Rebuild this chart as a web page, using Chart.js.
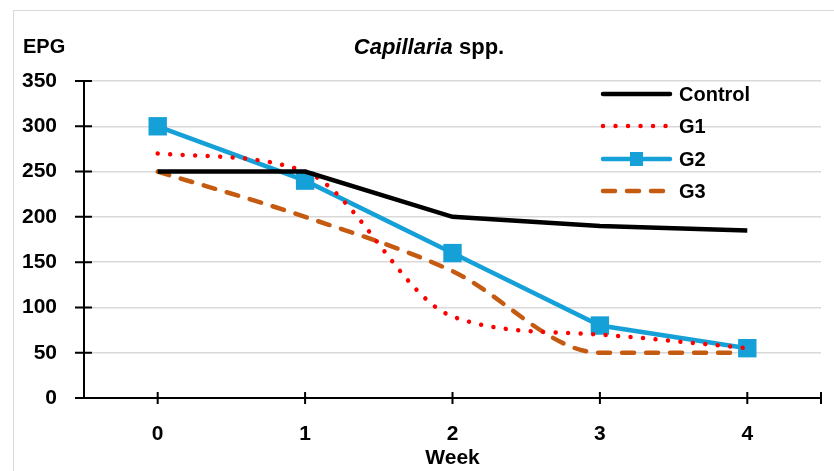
<!DOCTYPE html>
<html lang="en">
<head>
    <meta charset="UTF-8">
    <title>Capillaria spp.</title>
    <script src="https://cdn.jsdelivr.net/npm/chart.js"></script>
    <style>
        body {
            margin: 0;
            width: 834px;
            height: 471px;
            overflow: hidden;
            background: #fff;
            font-family: "Liberation Sans", Arial, sans-serif;
        }
        .frame {
            position: absolute;
            left: 13px;
            top: 10px;
            width: 900px;
            height: 600px;
            border: 1.5px solid #d9d9d9;
        }
        .chart-box {
            position: absolute;
            left: 0;
            top: 0;
            width: 834px;
            height: 471px;
        }
        .title {
            position: absolute;
            top: 34px;
            left: 0;
            width: 858px;
            text-align: center;
            font-size: 22px;
            font-weight: bold;
        }
        .ylabel {
            position: absolute;
            left: 23px;
            top: 35px;
            font-size: 20px;
            font-weight: bold;
        }
    </style>
</head>
<body>
    <div class="frame"></div>
    <div class="chart-box">
        <canvas id="epgChart" width="834" height="471"></canvas>
    </div>
    <div class="title"><i>Capillaria</i> spp.</div>
    <div class="ylabel">EPG</div>

    <script>
        // data
        const weeks = ['0', '1', '2', '3', '4'];
        const controlEPG = [250, 250, 200, 190, 185];
        const g1EPG = [270, 250, 90, 70, 55];
        const g2EPG = [300, 240, 160, 80, 55];
        const g3EPG = [250, 200, 140, 50, 50];
        const yTicks = [0, 50, 100, 150, 200, 250, 300, 350];

        const tickFont = { family: '"Liberation Sans", Arial, sans-serif', size: 21, weight: 'bold' };

        // axis lines with ticks crossing them
        const crossAxes = {
            id: 'crossAxes',
            beforeDatasetsDraw(chart) {
                const { ctx, chartArea, scales } = chart;
                const x0 = chartArea.left, y0 = chartArea.bottom;
                ctx.save();
                ctx.strokeStyle = '#000';
                ctx.lineWidth = 2;
                ctx.beginPath();
                ctx.moveTo(x0, chartArea.top);
                ctx.lineTo(x0, y0);
                ctx.moveTo(x0 - 8, y0);
                ctx.lineTo(chartArea.right, y0);
                yTicks.forEach(v => {
                    const y = scales.y.getPixelForValue(v);
                    ctx.moveTo(x0 - 9, y);
                    ctx.lineTo(x0 + 8, y);
                });
                const xs = weeks.map((w, i) => scales.x.getPixelForValue(i));
                xs.push(chartArea.right);
                xs.forEach(x => {
                    ctx.moveTo(x, y0 - 6);
                    ctx.lineTo(x, y0 + 6);
                });
                ctx.stroke();
                ctx.restore();
            }
        };

        // legend drawn inside the plot, top right
        const innerLegend = {
            id: 'innerLegend',
            afterDraw(chart) {
                const { ctx } = chart;
                const rows = [94, 126, 159, 191];
                ctx.save();
                chart.data.datasets.forEach((ds, i) => {
                    const y = rows[i];
                    ctx.strokeStyle = ds.borderColor;
                    ctx.lineWidth = ds.borderWidth;
                    ctx.lineCap = 'round';
                    ctx.setLineDash(ds.borderDash || []);
                    ctx.beginPath();
                    ctx.moveTo(603, y);
                    ctx.lineTo(670, y);
                    ctx.stroke();
                    ctx.setLineDash([]);
                    if (ds.pointRadius > 0) {
                        ctx.fillStyle = ds.borderColor;
                        ctx.fillRect(630, y - 7, 13, 14);
                    }
                    ctx.fillStyle = '#000';
                    ctx.font = 'bold 20px "Liberation Sans", Arial, sans-serif';
                    ctx.textBaseline = 'middle';
                    ctx.fillText(ds.label, 679, y + 1);
                });
                ctx.restore();
            }
        };

        const ctx = document.getElementById('epgChart').getContext('2d');
        new Chart(ctx, {
            type: 'line',
            data: {
                labels: weeks,
                datasets: [
                    {
                        label: 'Control',
                        data: controlEPG,
                        borderColor: '#000000',
                        borderWidth: 4.5,
                        pointRadius: 0,
                        tension: 0
                    },
                    {
                        label: 'G1',
                        data: g1EPG,
                        borderColor: '#ff0000',
                        borderWidth: 4.5,
                        borderDash: [0.01, 12.5],
                        borderCapStyle: 'round',
                        pointRadius: 0,
                        cubicInterpolationMode: 'monotone'
                    },
                    {
                        label: 'G2',
                        data: g2EPG,
                        borderColor: '#16a0d8',
                        backgroundColor: '#16a0d8',
                        borderWidth: 4.5,
                        pointStyle: 'rect',
                        pointRadius: 13,
                        pointBorderWidth: 0,
                        tension: 0
                    },
                    {
                        label: 'G3',
                        data: g3EPG,
                        borderColor: '#c55a11',
                        borderWidth: 4.5,
                        borderDash: [12, 12],
                        borderCapStyle: 'round',
                        pointRadius: 0,
                        cubicInterpolationMode: 'monotone'
                    }
                ]
            },
            options: {
                responsive: false,
                animation: false,
                layout: { padding: { top: 81, right: 5, left: 0, bottom: 0 } },
                scales: {
                    x: {
                        offset: true,
                        grid: { display: false, drawTicks: false },
                        border: { display: false },
                        ticks: { color: '#000', font: tickFont, padding: 24, maxRotation: 0 },
                        title: {
                            display: true,
                            text: 'Week',
                            color: '#000',
                            font: { family: '"Liberation Sans", Arial, sans-serif', size: 21, weight: 'bold' },
                            padding: { top: -10, bottom: 0 }
                        },
                        afterFit: s => { s.height = 73; }
                    },
                    y: {
                        min: 0,
                        max: 350,
                        grid: { color: '#d9d9d9', lineWidth: 1.5, drawTicks: false },
                        border: { display: false },
                        ticks: { stepSize: 50, color: '#000', font: tickFont, padding: 27 },
                        afterFit: s => { s.width = 84; }
                    }
                },
                plugins: {
                    legend: { display: false },
                    tooltip: { enabled: false }
                }
            },
            plugins: [crossAxes, innerLegend]
        });
    </script>
</body>
</html>
